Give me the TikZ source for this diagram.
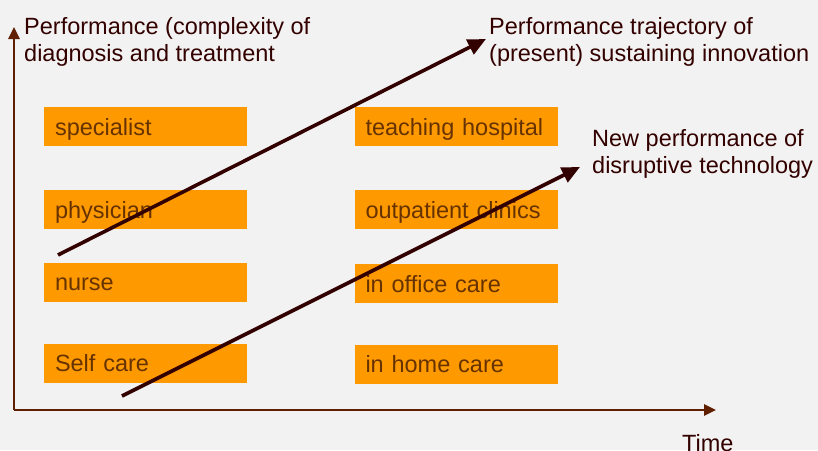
\documentclass[tikz,border=0pt]{standalone}
\usepackage{fontspec}
\setmainfont{Liberation Sans}
\definecolor{hcbg}{RGB}{242,242,242}
\definecolor{hcorange}{RGB}{255,153,0}
\definecolor{hcbrown}{RGB}{102,51,0}
\definecolor{hcaxis}{RGB}{96,32,0}
\definecolor{hcdark}{RGB}{51,0,0}
\usetikzlibrary{arrows.meta,positioning}

\begin{document}
\begin{tikzpicture}[x=1pt, y=-1pt,
  care/.style={rectangle, fill=hcorange, minimum width=203pt, minimum height=39pt,
               inner xsep=11pt, text width=181pt, align=left,
               text height=17pt, text depth=0pt,
               font=\fontsize{23.5}{27}\selectfont, text=hcbrown},
  lbl/.style={font=\fontsize{23.5}{27}\selectfont, text=hcdark, align=left, inner sep=0pt},
  axis/.style={-{Triangle[length=12pt, width=11pt]}, line width=2.6pt, draw=hcaxis},
  traj/.style={-{Triangle[length=18pt, width=16pt]}, line width=3.6pt, draw=hcdark}
]
% canvas
\fill[hcbg] (0,0) rectangle (818,450);
\useasboundingbox (0,0) rectangle (818,450);

% axes
\coordinate (origin) at (14,410);
\coordinate (ytop) at (14,27);
\coordinate (xend) at (716,410);
\draw[axis] (origin) -- (ytop);
\draw[axis] (origin) -- (xend);

% who gives care
\node[care] (specialist) at (145.5,126.5) {specialist};
\node[care] (physician)  at (145.5,209.5) {physician};
\node[care] (nurse)      at (145.5,282)   {nurse};
\node[care] (selfcare)   at (145.5,363)   {Self care};

% where care is given
\node[care] (teaching)   at (456,126.5) {teaching hospital};
\node[care] (outpatient) at (456,209.5) {outpatient clinics};
\node[care] (office)     at (456,283.5) {in office care};
\node[care] (home)       at (456,364)   {in home care};

% trajectories
\coordinate (sustainA) at (58,255);
\coordinate (sustainB) at (486,39);
\coordinate (disruptA) at (122,396);
\coordinate (disruptB) at (580,167);
\draw[traj] (sustainA) -- (sustainB);
\draw[traj] (disruptA) -- (disruptB);

% labels (base = last line)
\node[lbl, anchor=base west] (ylabel) at (24,61)
  {Performance (complexity of\\diagnosis and treatment};
\node[lbl, anchor=base west] (sustainlbl) at (489,61)
  {Performance trajectory of\\(present) sustaining innovation};
\node[lbl, anchor=base west] (disruptlbl) at (592,173)
  {New performance of\\disruptive technology};
\node[lbl, anchor=base west] (xlabel) at (682,451) {Time};
\end{tikzpicture}
\end{document}
